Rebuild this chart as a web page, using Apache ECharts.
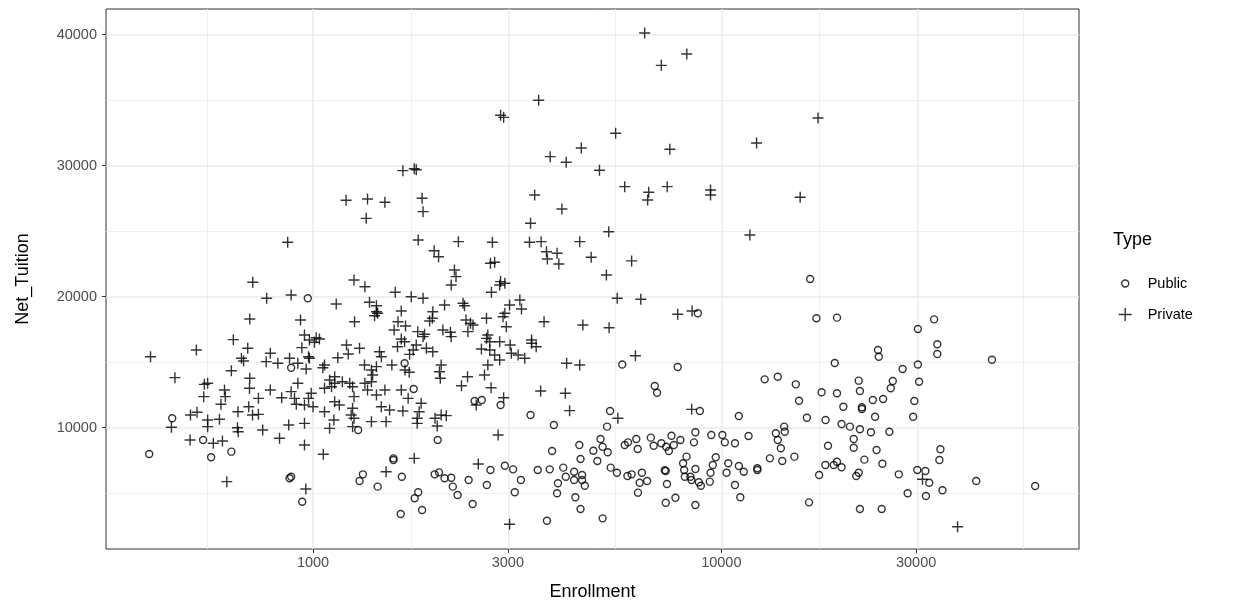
<!DOCTYPE html>
<html>
<head>
<meta charset="utf-8">
<script src="https://cdn.jsdelivr.net/npm/echarts@6/dist/echarts.min.js"></script>
<style>
  html, body { margin: 0; padding: 0; background: #fff; }
  #main { width: 1233px; height: 607px; }
</style>
</head>
<body>
<div id="main"></div>
<script>
// [Enrollment, Net_Tuition]
const publicPoints = [
  [971,19880],[884,14580],[452,10720],[538,9060],[397,7990],[563,7740],[631,8170],[876,6140],[884,6260],[941,4350],
  [1676,14920],[2488,12040],[2590,12110],[2880,11730],[1764,12950],[1290,9820],[2020,9060],[3410,10970],[3890,10200],
  [1574,7660],[1574,7530],[1325,6440],[1300,5930],[1440,5500],[1650,6260],[1986,6440],[2035,6590],[2100,6140],[2180,6180],
  [2200,5500],[2260,4860],[1810,5070],[1774,4610],[1850,3720],[1640,3410],[2405,6010],[2460,4170],[2720,6770],[2665,5630],
  [2950,7100],[3090,6820],[3230,6010],[3120,5070],[3550,6770],[3800,6820],[3850,8220],[4100,6950],[4160,6260],[4360,6640],
  [4360,6010],[4560,6390],[4560,6010],[4630,5570],[4490,8680],[4520,7610],[3980,5760],[3960,4990],[4390,4690],[4520,3790],
  [3740,2900],
  [5720,14820],[7820,14630],[6870,13180],[6960,12670],[5340,11270],[5250,10080],[8860,11270],[12770,13690],[13750,13890],
  [15220,13310],[15500,12060],[16200,10760],[17600,12700],[18000,10590],[11040,10890],[5060,9140],[5120,8550],[4860,8240],
  [5270,8120],[4970,7460],[5360,6950],[5550,6560],[5910,8880],[5800,8680],[6190,9140],[6240,8370],[5890,6310],[6030,6440],
  [6390,6560],[6310,5800],[6580,5930],[6250,5040],[6720,9240],[6830,8620],[7130,8810],[7330,8550],[7440,8220],[7550,9390],
  [7650,8680],[7940,9060],[7270,6750],[7310,6690],[7360,5700],[7310,4270],[7720,4650],[8220,7790],[8060,7280],[8110,6770],
  [8140,6260],[8400,6260],[8450,6010],[8640,6850],[8810,5830],[8910,5570],[8640,9650],[8570,8880],[8640,4100],[9370,5880],
  [9410,6560],[9530,7150],[9690,7740],[9450,9440],[10060,9440],[10200,8880],[10800,8810],[10400,7280],[10300,6560],
  [11040,7080],[11350,6640],[12250,6900],[12250,6770],[10800,5630],[11130,4690],[11660,9360],[13150,7660],[13600,9570],
  [13750,9060],[14250,10080],[14300,9690],[13990,8430],[14100,7460],[15100,7790],[17360,6390],[17980,7150],[16400,4300],
  [18250,8620],[5120,3080],
  [18960,14940],[27800,14480],[30300,14820],[21700,13590],[21850,12800],[19200,12630],[26300,13560],[26000,13010],
  [30500,13510],[23500,12110],[24900,12190],[29700,12040],[19900,11600],[22100,11560],[22100,11430],[23800,10840],
  [29500,10840],[19700,10280],[20650,10080],[21850,9880],[23250,9650],[25800,9690],[21100,9140],[21100,8470],[24000,8300],
  [22400,7560],[24800,7250],[18850,7150],[19200,7400],[19700,6980],[21400,6310],[21700,6560],[27200,6440],[30200,6770],
  [31600,6690],[32300,5800],[34400,8350],[34200,7530],[28600,4990],[31700,4790],[34800,5220],[42100,5930],[58700,5550],
  [21850,3790],[24700,3790],[19200,18400],[33200,18270],[30300,17530],[24200,15930],[24300,15420],[33800,16370],
  [33800,15630],[46000,15190],[16500,21350],[17100,18350],[8760,18730]
];

const privatePoints = [
  [3570,34990],[2880,33850],[2930,33690],[3810,30690],[4170,30260],[4540,31350],[1660,29620],[1770,29770],[1790,29690],
  [6490,40130],[8230,38530],[7130,37660],[5510,32470],[7480,31250],[12200,31730],[17250,33640],[5030,29650],
  [5800,28400],[6640,27970],[6600,27380],[7370,28400],[9410,28140],[9410,27760],[15600,27590],[5300,24960],[11750,24710],
  [4800,23010],[6030,22730],[5230,21660],[5560,19880],[6350,19800],[7820,18660],[8480,18910],[5310,17630],[6160,15490],
  [5580,10720],[8460,11400],[31100,6060],[37900,2440],
  [3030,2630],[2540,7230],[1510,6640],[1770,7660],[2840,9440],[3610,12800],[4150,12630],[4250,11300],
  [1680,14400],[1720,14230],[2040,14270],[2050,13770],[2390,13890],[2310,13200],[2630,14020],[2730,13050],[2930,12290],
  [2510,11730],[1230,13390],[1250,13130],[1260,12370],[1340,13390],[1390,13510],[1400,14020],[1390,14400],[1360,12880],
  [1430,12500],[1500,12880],[1645,12880],[1710,12240],[1470,11600],[1540,11350],[1660,11270],[1840,11860],[1820,11220],
  [1800,10720],[1800,10330],[1250,11480],[1240,10970],[1260,10720],[1250,10080],[1390,10460],[1510,10460],[1990,10720],
  [2060,10970],[2120,10920],[2015,10130],
  [1205,27360],[1360,27460],[1500,27210],[1350,25980],[1850,27510],[1860,26490],[3490,27760],[4070,26690],[3410,25600],
  [1810,24330],[2270,24200],[2750,24150],[3390,24150],[3620,24200],[4500,24200],[1980,23510],[2030,23050],[3730,23430],
  [3960,23310],[3750,22880],[4000,22500],[2720,22550],[2785,22630],[2220,22040],[2240,21530],[2180,20890],[1260,21270],
  [1340,20760],[1590,20340],[1740,20000],[1860,19880],[2880,21150],[2950,21020],[2865,20890],[2735,20340],[3210,19750],
  [3240,19060],[3030,19370],[1375,19570],[1430,19310],[1440,18730],[1415,18550],[1430,18850],[1645,18910],[1264,18090],
  [1615,18090],[1685,17760],[1580,17460],[2100,19370],[2330,19500],[2350,19310],[1965,18850],[1960,18350],[1930,18140],
  [2370,18220],[2430,17970],[2465,17840],[2395,17330],[2660,18350],[2950,18730],[2920,18470],[2975,17710],[3680,18090],
  [4580,17840],[1805,17330],[1876,17130],[1860,16950],[2080,17460],[2170,17280],[2180,16950],[1645,16770],[1676,16560],
  [1610,16180],[1790,16310],[1760,15930],[1895,16060],[1965,15800],[2680,17080],[2660,16820],[2710,16560],[2865,16560],
  [3040,16310],[2585,16010],[2710,15930],[3430,16690],[3430,16440],[3520,16180],[3060,15680],[3180,15550],[2785,15550],
  [2865,15170],[3300,15300],[1300,16060],[1455,15800],[1470,15420],[1724,15600],[2060,14790],[2680,14790],[4180,14920],
  [4500,14790],[1337,14790],[1430,14660],[1560,14790],
  [867,24150],[712,21100],[770,19880],[884,20130],[1140,19440],[700,18300],[932,18220],[638,16720],[692,16060],[518,15930],
  [400,15420],[953,17080],[980,16690],[1018,16870],[1037,16770],[1008,16520],[939,16110],[975,15420],[980,15300],
  [1208,16310],[1220,15630],[786,15680],[668,15300],[676,15090],[1150,15340],[768,15040],[820,14920],[876,15300],
  [918,14920],[1067,14790],
  [459,13820],[631,14350],[542,13310],[552,13390],[540,12370],[607,12880],[610,12370],[595,11790],[700,13770],[699,13010],
  [786,12880],[735,12240],[696,11600],[655,11220],[711,10970],[735,11020],[501,10970],[520,11180],[450,10030],[552,10590],
  [552,10080],[590,10640],[653,10000],[656,9690],[753,9820],[828,9190],[872,10200],[953,10330],[838,12290],[884,12750],
  [901,12240],[918,13390],[910,11790],[953,11730],[975,12240],[990,12630],[1000,11600],[962,14480],[1057,14580],
  [1067,13010],[1098,13640],[1110,13130],[1130,13890],[1130,13390],[1180,13510],[1067,11220],[1130,11980],[1160,11730],
  [1125,10590],[1098,9950],[953,8680],[1060,7970],[500,9060],[570,8810],[600,8980],[615,5880],[960,5320]
];

const xTicks = [1000, 3000, 10000, 30000];
const yTicks = [10000, 20000, 30000, 40000];

const FONT = '"Liberation Sans", Arial, sans-serif';
const log10 = Math.log10;

// gridlines (ggplot style: majors + minors halfway between them)
const xMajor = xTicks.map(log10);
const xEdge = [log10(300)].concat(xMajor, [log10(100000)]);
const xMinor = [];
for (let i = 0; i < xEdge.length - 1; i++) xMinor.push((xEdge[i] + xEdge[i + 1]) / 2);
const yMinor = [5000, 15000, 25000, 35000];

const majorStyle = { color: '#EBEBEB', width: 1.5, type: 'solid' };
const minorStyle = { color: '#EBEBEB', width: 0.8, type: 'solid' };
const gridLines = []
  .concat(xMinor.map(v => ({ xAxis: v, lineStyle: minorStyle })))
  .concat(yMinor.map(v => ({ yAxis: v, lineStyle: minorStyle })))
  .concat(xMajor.map(v => ({ xAxis: v, lineStyle: majorStyle })))
  .concat(yTicks.map(v => ({ yAxis: v, lineStyle: majorStyle })));

const plusPath = 'path://M0,6L12,6M6,0L6,12';
const circleIcon = 'path://M0,0M13,13M3,6.5A3.5,3.5,0,1,1,10,6.5A3.5,3.5,0,1,1,3,6.5Z';

const chart = echarts.init(document.getElementById('main'), null, { renderer: 'canvas' });

const option = {
  animation: false,
  backgroundColor: '#fff',
  grid: {
    left: 106, top: 9, right: 154, bottom: 58,
    show: true, borderColor: '#333333', borderWidth: 1, backgroundColor: '#fff'
  },
  xAxis: {
    type: 'value',
    min: 2.493, max: 4.876,
    name: 'Enrollment',
    nameLocation: 'middle',
    nameGap: 34,
    nameTextStyle: { fontSize: 18, color: '#000', fontFamily: FONT },
    axisLine: { show: false },
    splitLine: { show: false },
    axisTick: { show: true, length: 4, customValues: xMajor, lineStyle: { color: '#333333' } },
    axisLabel: {
      customValues: xMajor,
      fontSize: 14.5, color: '#4D4D4D', fontFamily: FONT, margin: 6,
      formatter: v => String(Math.round(Math.pow(10, v)))
    }
  },
  yAxis: {
    type: 'value',
    min: 740, max: 41960,
    name: 'Net_Tuition',
    nameLocation: 'middle',
    nameGap: 74,
    nameTextStyle: { fontSize: 18, color: '#000', fontFamily: FONT },
    axisLine: { show: false },
    splitLine: { show: false },
    axisTick: { show: true, length: 4, customValues: yTicks, lineStyle: { color: '#333333' } },
    axisLabel: {
      customValues: yTicks,
      fontSize: 14.5, color: '#4D4D4D', fontFamily: FONT, margin: 9,
      formatter: v => String(v)
    }
  },
  legend: {
    orient: 'vertical',
    left: 1113, top: 271,
    itemWidth: 13, itemHeight: 13, itemGap: 16,
    textStyle: { fontSize: 14.5, color: '#000', fontFamily: FONT, padding: [0, 0, 0, 11] },
    data: [
      { name: 'Public', icon: circleIcon, itemStyle: { color: 'transparent', borderColor: '#000', borderWidth: 1.4 } },
      { name: 'Private', icon: plusPath, itemStyle: { color: 'transparent', borderColor: '#000', borderWidth: 1.4 } }
    ]
  },
  graphic: [{
    type: 'text', left: 1113, top: 231,
    style: { text: 'Type', fontSize: 18, fill: '#000', fontFamily: FONT }
  }],
  series: [
    {
      name: 'grid',
      type: 'scatter',
      data: [],
      z: 1,
      silent: true,
      markLine: { silent: true, z: 1, symbol: 'none', label: { show: false }, animation: false, data: gridLines }
    },
    {
      name: 'Public',
      type: 'scatter',
      z: 4,
      symbol: 'circle',
      symbolSize: 7,
      itemStyle: { color: 'transparent', borderColor: '#000', borderWidth: 1.4 },
      data: publicPoints.map(p => [log10(p[0]), p[1]])
    },
    {
      name: 'Private',
      type: 'scatter',
      z: 4,
      symbol: plusPath,
      symbolSize: 11,
      itemStyle: { color: 'transparent', borderColor: '#000', borderWidth: 1.4 },
      data: privatePoints.map(p => [log10(p[0]), p[1]])
    }
  ]
};

chart.setOption(option);
</script>
</body>
</html>
